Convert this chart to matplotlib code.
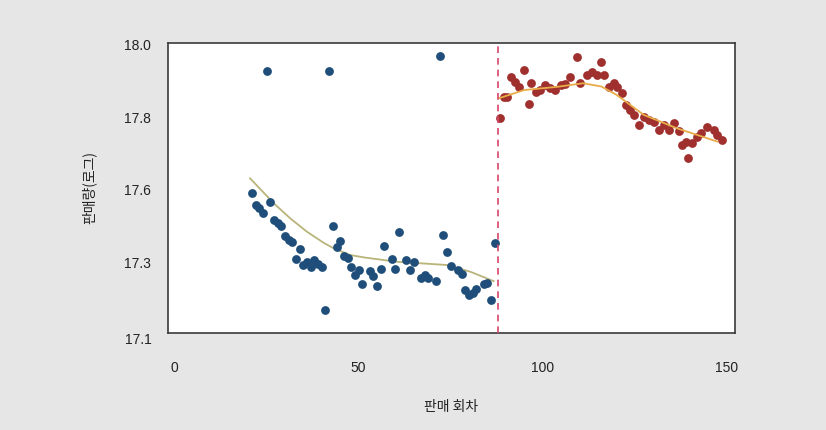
import matplotlib.pyplot as plt
from matplotlib.transforms import ScaledTranslation

# 판매 회차별 판매량(로그) - 앞 구간(파랑), 뒤 구간(빨강)
blue_x = [21, 22, 23, 24, 25, 26, 27, 28, 29, 30, 31, 32, 33, 34, 35, 36, 37, 38, 39, 40,
          41, 42, 43, 44, 45, 46, 47, 48, 49, 50, 51, 53, 54, 55, 56, 57, 59, 60, 61, 63,
          64, 65, 67, 68, 69, 71, 72, 73, 74, 75, 77, 78, 79, 80, 81, 82, 84, 85, 86, 87]
blue_y = [17.535, 17.497, 17.488, 17.471, 17.914, 17.506, 17.451, 17.442, 17.432, 17.402,
          17.389, 17.383, 17.329, 17.360, 17.311, 17.321, 17.306, 17.327, 17.315, 17.304,
          17.171, 17.914, 17.433, 17.366, 17.386, 17.339, 17.332, 17.304, 17.280, 17.296,
          17.252, 17.293, 17.277, 17.247, 17.298, 17.370, 17.330, 17.299, 17.414, 17.327,
          17.296, 17.320, 17.270, 17.280, 17.272, 17.260, 17.960, 17.405, 17.352, 17.309,
          17.295, 17.283, 17.233, 17.218, 17.223, 17.237, 17.252, 17.256, 17.202, 17.380]

red_x = [88.4, 89.4, 90.4, 91.3, 92.4, 93.5, 94.9, 96.2, 96.8, 98.1, 99.4, 100.8, 102.1,
         103.5, 104.9, 106.2, 107.4, 109.4, 110.1, 112.1, 113.5, 114.9, 115.8, 116.6, 118.0,
         119.4, 120.3, 121.7, 122.6, 123.9, 124.8, 126.2, 127.5, 128.9, 130.3, 131.6, 133.0,
         134.3, 135.7, 137.1, 138.0, 138.9, 139.5, 140.7, 142.1, 143.0, 144.8, 146.6, 147.5,
         148.9]
red_y = [17.768, 17.831, 17.833, 17.895, 17.880, 17.864, 17.916, 17.810, 17.875, 17.849,
         17.854, 17.870, 17.859, 17.854, 17.870, 17.872, 17.895, 17.956, 17.875, 17.901,
         17.911, 17.901, 17.942, 17.901, 17.864, 17.875, 17.864, 17.844, 17.808, 17.792,
         17.777, 17.746, 17.771, 17.761, 17.756, 17.730, 17.746, 17.730, 17.751, 17.727,
         17.683, 17.694, 17.644, 17.689, 17.709, 17.720, 17.740, 17.730, 17.714, 17.699]

# 추세선
blue_trend_x = [20.5, 26.9, 31.4, 36.0, 40.5, 43.2, 47.7, 51.8, 60.4, 74.0, 80.4, 86.7]
blue_trend_y = [17.580, 17.503, 17.456, 17.414, 17.380, 17.363, 17.342, 17.334, 17.321,
                17.311, 17.290, 17.261]
red_trend_x = [88, 95, 104, 111, 116, 120, 127.5, 136.6, 147.5]
red_trend_y = [17.828, 17.854, 17.864, 17.875, 17.865, 17.840, 17.777, 17.735, 17.694]

cut_x = 88
x_ticks = [0, 50, 100, 150]
y_ticks = [17.1, 17.325, 17.55, 17.775, 18.0]
y_tick_labels = ['17.1', '17.3', '17.6', '17.8', '18.0']

fig = plt.figure(figsize=(8.26, 4.30), dpi=100, facecolor='#e6e6e6')
ax = fig.add_axes([0.2034, 0.2256, 0.6864, 0.6744])
ax.set_facecolor('white')

ax.scatter(blue_x, blue_y, s=40, color='#1f4e7a', zorder=3, linewidths=0)
ax.scatter(red_x, red_y, s=40, color='#a0302e', zorder=3, linewidths=0)
ax.plot(blue_trend_x, blue_trend_y, color='#b9b47a', lw=1.3, zorder=2)
ax.plot(red_trend_x, red_trend_y, color='#e8ac48', lw=1.3, zorder=4)
ax.axvline(cut_x, color='#d8466a', lw=1.2, ls=(0, (4, 3)), zorder=5)

ax.set_xlim(-1.8, 152.3)
ax.set_ylim(17.1, 18.0)
ax.set_xticks(x_ticks)
ax.set_yticks(y_ticks)
ax.set_yticklabels(y_tick_labels)
ax.tick_params(axis='both', length=0, labelsize=10, colors='#222222')
ax.tick_params(axis='x', pad=20)
ax.tick_params(axis='y', pad=12)
for lab in ax.get_xticklabels() + ax.get_yticklabels():
    lab.set_family(['Liberation Sans', 'DejaVu Sans'])
# 세로축 눈금 글자는 약간 아래로
for i, lab in enumerate(ax.get_yticklabels()):
    dy = -6 if i == 0 else -2
    lab.set_transform(lab.get_transform() + ScaledTranslation(0, dy / 100, fig.dpi_scale_trans))

for sp in ax.spines.values():
    sp.set_color('#3a3a3a')
    sp.set_linewidth(1.2)

ax.set_xlabel('판매 회차', family=['Noto Sans CJK KR', 'DejaVu Sans'], fontsize=10,
              color='#222222', labelpad=18)
ax.set_ylabel('판매량(로그)', family=['Noto Sans CJK KR', 'DejaVu Sans'], fontsize=10,
              color='#222222', labelpad=20)

fig.savefig('out.png', dpi=100, facecolor=fig.get_facecolor())
